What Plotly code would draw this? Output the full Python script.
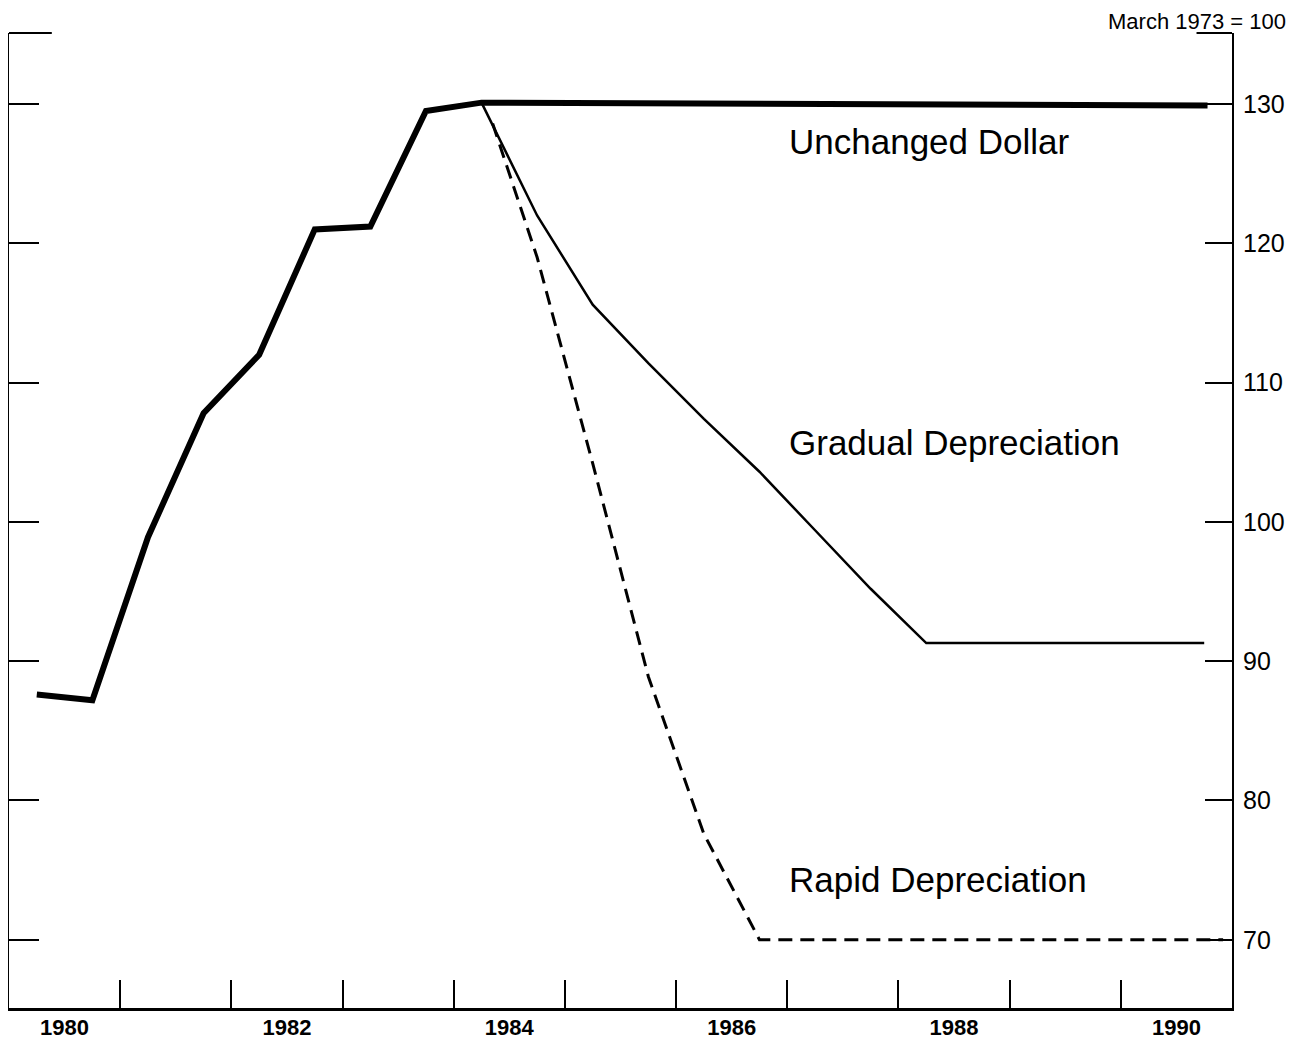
import plotly.graph_objects as go

# exchange value of the dollar, March 1973 = 100
hist_years = [1980.25, 1980.75, 1981.25, 1981.75, 1982.25, 1982.75, 1983.25, 1983.75, 1984.25]
hist_vals = [87.6, 87.2, 98.9, 107.8, 112.0, 121.0, 121.2, 129.5, 130.1]

unchanged_years = [1984.25, 1990.78]
unchanged_vals = [130.1, 129.9]

gradual_years = [1984.25, 1984.75, 1985.25, 1985.75, 1986.25, 1986.75, 1987.25, 1987.75, 1988.25, 1990.75]
gradual_vals = [130.1, 122.0, 115.6, 111.4, 107.4, 103.6, 99.4, 95.2, 91.3, 91.3]

rapid_years = [1984.35, 1984.75, 1985.25, 1985.75, 1986.25, 1986.75, 1990.92]
rapid_vals = [128.6, 119.0, 104.2, 88.9, 77.6, 70.0, 70.0]

year_ticks = list(range(1981, 1991))
label_pos = [1980.5, 1982.5, 1984.5, 1986.5, 1988.5, 1990.5]
label_text = ["1980", "1982", "1984", "1986", "1988", "1990"]
value_ticks = [70, 80, 90, 100, 110, 120, 130]

xr = [1980, 1991]
yr = [65.1, 135.1]

fig = go.Figure()
fig.add_trace(go.Scatter(x=rapid_years, y=rapid_vals, mode='lines',
                         line=dict(color='black', width=3, dash='14px,8px')))
fig.add_trace(go.Scatter(x=gradual_years, y=gradual_vals, mode='lines',
                         line=dict(color='black', width=2.5)))
fig.add_trace(go.Scatter(x=hist_years + unchanged_years[1:], y=hist_vals + unchanged_vals[1:],
                         mode='lines', line=dict(color='black', width=6)))
fig.add_trace(go.Scatter(x=[], y=[], xaxis='x2', yaxis='y2', showlegend=False))

txt = dict(family='Liberation Sans, Arial', size=35, color='black')
fig.add_annotation(x=1987.0, y=127.3, text='Unchanged Dollar', showarrow=False, xanchor='left', font=txt)
fig.add_annotation(x=1987.0, y=105.7, text='Gradual Depreciation', showarrow=False, xanchor='left', font=txt)
fig.add_annotation(x=1987.0, y=74.3, text='Rapid Depreciation', showarrow=False, xanchor='left', font=txt)
fig.add_annotation(x=1.045, y=1.0256, xref='paper', yref='paper', text='March 1973 = 100',
                   showarrow=False, xanchor='right', yanchor='top', borderpad=0,
                   font=dict(family='Liberation Sans, Arial', size=22, color='black'))

# long end ticks at the top of both vertical axes
fig.add_shape(type='line', xref='paper', yref='paper', x0=0, x1=0.035, y0=1, y1=1,
              line=dict(color='black', width=2))
fig.add_shape(type='line', xref='paper', yref='paper', x0=1 - 0.029, x1=1, y0=1, y1=1,
              line=dict(color='black', width=2))

fig.update_layout(
    width=1307, height=1045,
    margin=dict(l=1, r=83, t=25, b=45),
    plot_bgcolor='white', paper_bgcolor='white',
    showlegend=False,
    xaxis=dict(range=xr, showgrid=False, zeroline=False, showline=True, linecolor='black', linewidth=3,
               ticks='inside', ticklen=28, tickwidth=2, tickcolor='black', tickvals=year_ticks,
               showticklabels=False),
    xaxis2=dict(range=xr, overlaying='x', anchor='y', side='bottom', showgrid=False, zeroline=False,
                showline=False, ticks='', tickvals=label_pos, ticktext=label_text,
                ticklabelstandoff=4,
                tickfont=dict(family='Liberation Sans, Arial', size=22, color='black', weight='bold')),
    yaxis=dict(range=yr, showgrid=False, zeroline=False, showline=True, linecolor='black', linewidth=2,
               ticks='inside', ticklen=30, tickwidth=2, tickcolor='black', tickvals=value_ticks,
               showticklabels=False),
    yaxis2=dict(range=yr, overlaying='y', anchor='x', side='right', showgrid=False, zeroline=False,
                showline=True, linecolor='black', linewidth=2, ticks='inside', ticklen=27, tickwidth=2,
                tickcolor='black', tickvals=value_ticks, ticklabelstandoff=4,
                tickfont=dict(family='Liberation Sans, Arial', size=25, color='black')),
)

fig.write_html('out.html')
